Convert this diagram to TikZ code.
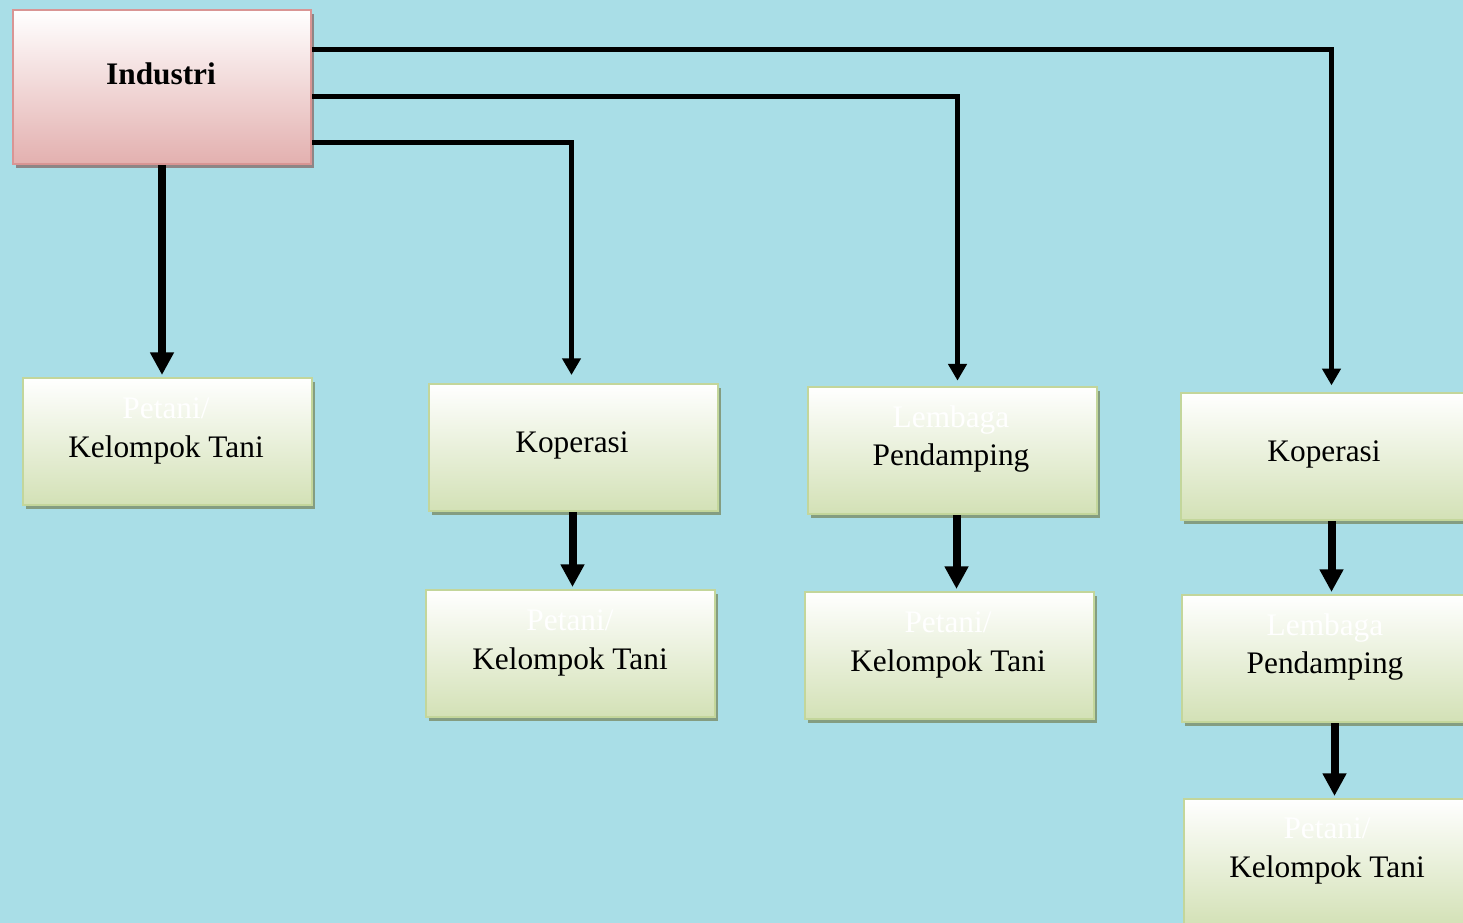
\documentclass[tikz,border=0pt]{standalone}
\usepackage{fontspec}
\setmainfont{Liberation Serif}
\usetikzlibrary{arrows.meta,shadows,calc}
\definecolor{bg}{HTML}{A9DEE7}
\definecolor{gfill}{HTML}{D3E1B6}
\definecolor{gline}{HTML}{C3D69B}
\definecolor{gshadow}{HTML}{7E9270}
\definecolor{pfill}{HTML}{E3B0AF}
\definecolor{pline}{HTML}{D99594}
\definecolor{pshadow}{HTML}{8A7676}
\tikzset{
  gbox/.style={draw=gline, line width=1.5pt, top color=white, bottom color=gfill,
    minimum width=216.75pt, minimum height=95.25pt, inner sep=0pt, anchor=north west,
    drop shadow={shadow xshift=2.5pt, shadow yshift=-3pt, fill=gshadow, opacity=0.85}},
  pbox/.style={draw=pline, line width=1.5pt, top color=white, bottom color=pfill,
    minimum width=223.5pt, minimum height=115.5pt, inner sep=0pt, anchor=north west,
    drop shadow={shadow xshift=2.5pt, shadow yshift=-3pt, fill=pshadow, opacity=0.85}},
  lbl/.style={font=\fontsize{23.5pt}{28pt}\selectfont, anchor=base, inner sep=0pt, text=black},
  wlbl/.style={lbl, text=white},
  thinconn/.style={line width=3.75pt, line join=miter, draw=black,
    -{Triangle[width=13.5pt,length=12.5pt]}},
  thickconn/.style={line width=6pt, draw=black,
    -{Triangle[width=17pt,length=17pt]}},
}
\begin{document}
\begin{tikzpicture}[x=0.75pt,y=-0.75pt]
\useasboundingbox (0,0) rectangle (1463,923);
\clip (0,0) rectangle (1463,923);
\fill[bg] (0,0) rectangle (1463,923);

% boxes
\node[pbox] (ind) at (12,9) {};
\node[gbox] (a)  at (22,377) {};
\node[gbox] (k1) at (428,383) {};
\node[gbox] (l1) at (807,386) {};
\node[gbox] (k2) at (1180,392) {};
\node[gbox] (p2) at (425,589) {};
\node[gbox] (p3) at (804,591) {};
\node[gbox] (l2) at (1181,594) {};
\node[gbox] (p4) at (1183,798) {};

% texts
\node[lbl, font=\fontsize{23.5pt}{28pt}\selectfont\bfseries] (tind) at (161,85) {Industri};
\node[wlbl] (ta1) at (166,418) {Petani/};
\node[lbl]  (ta2) at (166,457) {Kelompok Tani};
\node[lbl]  (tk1) at (572,452) {Koperasi};
\node[wlbl] (tl1a) at (951,427) {Lembaga};
\node[lbl]  (tl1b) at (951,465) {Pendamping};
\node[lbl]  (tk2) at (1324,461) {Koperasi};
\node[wlbl] (tp2a) at (570,630) {Petani/};
\node[lbl]  (tp2b) at (570,669) {Kelompok Tani};
\node[wlbl] (tp3a) at (948,632) {Petani/};
\node[lbl]  (tp3b) at (948,671) {Kelompok Tani};
\node[wlbl] (tl2a) at (1325,635) {Lembaga};
\node[lbl]  (tl2b) at (1325,673) {Pendamping};
\node[wlbl] (tp4a) at (1327,838) {Petani/};
\node[lbl]  (tp4b) at (1327,877) {Kelompok Tani};

% connectors from Industri
\draw[thickconn, shorten >=1.5pt] (ind.south) -- (ind.south |- a.north);
\draw[thinconn, shorten >=6pt] ($(ind.north east)+(0,134)$) -| ($(k1.north)+(-2,0)$);
\draw[thinconn, shorten >=4pt] ($(ind.north east)+(0,88)$) -| ($(l1.north)+(5,0)$);
\draw[thinconn, shorten >=5pt] ($(ind.north east)+(0,41)$) -| ($(k2.north)+(6,0)$);

% short arrows
\draw[thickconn, shorten >=1.5pt] ($(k1.south)+(-1,0)$) coordinate (u1) -- (u1 |- p2.north);
\draw[thickconn, shorten >=1.5pt] ($(l1.south)+(4,0)$) coordinate (u2) -- (u2 |- p3.north);
\draw[thickconn, shorten >=1.5pt] ($(k2.south)+(6,0)$) coordinate (u3) -- (u3 |- l2.north);
\draw[thickconn, shorten >=1.5pt] ($(l2.south)+(8,0)$) coordinate (u4) -- (u4 |- p4.north);
\end{tikzpicture}
\end{document}
